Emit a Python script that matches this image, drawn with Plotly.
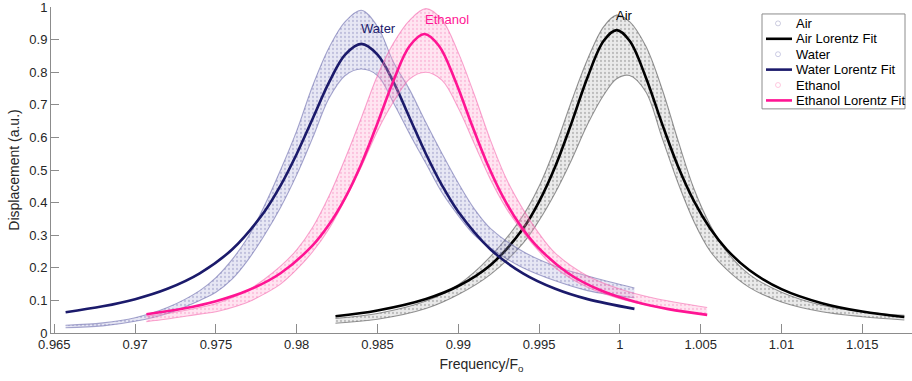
import plotly.graph_objects as go

# ---- Lorentz fit curves (frequency normalised to F_o, displacement in a.u.) ----
air_fit_f = [0.9824, 0.985, 0.988, 0.990, 0.992, 0.994, 0.995, 0.996, 0.997, 0.998,
             0.999, 0.9998, 1.0006, 1.0016, 1.0026, 1.0036, 1.0046, 1.0056, 1.0066,
             1.008, 1.010, 1.0125, 1.015, 1.0176]
air_fit_v = [0.0512, 0.0692, 0.1045, 0.1442, 0.2088, 0.3196, 0.4029, 0.5108, 0.6432, 0.7848,
             0.8965, 0.929, 0.8965, 0.7848, 0.6432, 0.5108, 0.4029, 0.3196, 0.2566,
             0.1931, 0.1347, 0.0916, 0.0659, 0.0490]

water_fit_f = [0.9657, 0.968, 0.970, 0.972, 0.974, 0.976, 0.978, 0.979, 0.980, 0.981,
               0.982, 0.983, 0.984, 0.985, 0.986, 0.987, 0.988, 0.989, 0.990, 0.992,
               0.994, 0.996, 0.998, 1.0009]
water_fit_v = [0.0639, 0.0818, 0.1039, 0.1357, 0.1831, 0.2563, 0.3721, 0.4523, 0.5492, 0.6590,
               0.7688, 0.8542, 0.887, 0.8542, 0.7688, 0.6590, 0.5492, 0.4523, 0.3721, 0.2563,
               0.1831, 0.1357, 0.1039, 0.0740]

ethanol_fit_f = [0.9707, 0.973, 0.975, 0.977, 0.979, 0.981, 0.982, 0.983, 0.984, 0.985,
                 0.986, 0.987, 0.9879, 0.9888, 0.9898, 0.9908, 0.9918, 0.9928, 0.9938,
                 0.9948, 0.9968, 0.9988, 1.0010, 1.0030, 1.0054]
ethanol_fit_v = [0.0575, 0.0751, 0.0975, 0.1310, 0.1834, 0.2694, 0.3325, 0.4145, 0.5186, 0.6436,
                 0.7756, 0.8810, 0.917, 0.8810, 0.7756, 0.6436, 0.5186, 0.4145, 0.3325,
                 0.2694, 0.1834, 0.1310, 0.0949, 0.0733, 0.0557]

# ---- measured sweeps: lower / upper extent of the scatter at each frequency ----
air_f = [0.9824, 0.985, 0.988, 0.990, 0.992, 0.994, 0.995, 0.996, 0.997, 0.998,
         0.999, 0.9998, 1.0006, 1.0016, 1.0026, 1.0036, 1.0046, 1.0056, 1.0066,
         1.008, 1.010, 1.0125, 1.015, 1.0176]
air_lo = [0.030, 0.042, 0.075, 0.118, 0.180, 0.275, 0.345, 0.430, 0.530, 0.640,
          0.730, 0.780, 0.790, 0.740, 0.600, 0.460, 0.340, 0.250, 0.195,
          0.140, 0.095, 0.065, 0.050, 0.040]
air_hi = [0.045, 0.060, 0.098, 0.148, 0.235, 0.360, 0.450, 0.570, 0.710, 0.840,
          0.940, 0.975, 0.955, 0.880, 0.750, 0.590, 0.440, 0.330, 0.250,
          0.180, 0.125, 0.085, 0.065, 0.054]

water_f = [0.9657, 0.968, 0.970, 0.972, 0.974, 0.975, 0.976, 0.977, 0.978, 0.979,
           0.980, 0.981, 0.982, 0.983, 0.984, 0.985, 0.986, 0.987, 0.988, 0.989,
           0.990, 0.991, 0.992, 0.994, 0.996, 0.998, 1.0009]
water_lo = [0.016, 0.022, 0.036, 0.060, 0.100, 0.125, 0.165, 0.225, 0.300, 0.385,
            0.485, 0.600, 0.720, 0.790, 0.810, 0.790, 0.705, 0.610, 0.520, 0.430,
            0.360, 0.300, 0.260, 0.200, 0.160, 0.130, 0.108]
water_hi = [0.024, 0.031, 0.047, 0.078, 0.130, 0.170, 0.225, 0.295, 0.390, 0.500,
            0.620, 0.760, 0.875, 0.955, 0.990, 0.940, 0.830, 0.745, 0.645, 0.550,
            0.460, 0.380, 0.320, 0.250, 0.205, 0.175, 0.138]

ethanol_f = [0.9707, 0.972, 0.974, 0.975, 0.976, 0.977, 0.978, 0.979, 0.980, 0.981,
             0.982, 0.983, 0.984, 0.985, 0.986, 0.987, 0.988, 0.989, 0.990, 0.991,
             0.992, 0.993, 0.994, 0.995, 0.996, 0.998, 1.000, 1.002, 1.0054]
ethanol_lo = [0.035, 0.043, 0.058, 0.065, 0.078, 0.095, 0.120, 0.150, 0.195, 0.250,
              0.320, 0.410, 0.510, 0.620, 0.710, 0.780, 0.800, 0.775, 0.690, 0.580,
              0.470, 0.380, 0.310, 0.250, 0.200, 0.140, 0.105, 0.082, 0.055]
ethanol_hi = [0.052, 0.060, 0.078, 0.090, 0.108, 0.132, 0.165, 0.205, 0.255, 0.325,
              0.420, 0.535, 0.660, 0.790, 0.890, 0.960, 0.995, 0.960, 0.860, 0.730,
              0.590, 0.470, 0.380, 0.305, 0.245, 0.175, 0.135, 0.108, 0.078]

# ---- axis ticks ----
x_ticks = [0.965, 0.97, 0.975, 0.98, 0.985, 0.99, 0.995, 1.0, 1.005, 1.01, 1.015]
x_tick_text = ["0.965", "0.97", "0.975", "0.98", "0.985", "0.99", "0.995", "1",
               "1.005", "1.01", "1.015"]
y_ticks = [0, 0.1, 0.2, 0.3, 0.4, 0.5, 0.6, 0.7, 0.8, 0.9, 1.0]
y_tick_text = ["0", "0.1", "0.2", "0.3", "0.4", "0.5", "0.6", "0.7", "0.8", "0.9", "1"]

# ---- colours ----
AIR = "#000000"
WATER = "#1b1a6b"
ETHANOL = "#ff1493"

W, H = 912, 381
ML, MR, MT, MB = 51, 0, 5, 48
FONT = "Liberation Sans, Arial, Helvetica, sans-serif"

fig = go.Figure()


def add_cloud(f, lo, hi, fill, dots, edge):
    # lower edge of the scatter cloud
    fig.add_trace(go.Scatter(x=f, y=lo, mode="lines",
                             line=dict(width=1.1, shape="spline", color=edge),
                             showlegend=False, hoverinfo="skip"))
    # upper edge, filled down to the lower edge with a speckled pattern
    fig.add_trace(go.Scatter(x=f, y=hi, mode="lines",
                             line=dict(width=1.1, shape="spline", color=edge),
                             fill="tonexty", fillcolor=fill,
                             fillpattern=dict(shape=".", fgcolor=dots, bgcolor=fill,
                                              size=4, solidity=0.25),
                             showlegend=False, hoverinfo="skip"))


def add_fit(f, v, color):
    fig.add_trace(go.Scatter(x=f, y=v, mode="lines",
                             line=dict(width=2.6, shape="spline", color=color),
                             showlegend=False))


add_cloud(air_f, air_lo, air_hi, "rgba(170,170,170,0.25)", "rgba(70,70,70,0.55)",
          "rgba(80,80,80,0.6)")
add_fit(air_fit_f, air_fit_v, AIR)
add_cloud(water_f, water_lo, water_hi, "rgba(160,160,210,0.25)", "rgba(90,90,160,0.55)",
          "rgba(95,95,165,0.55)")
add_fit(water_fit_f, water_fit_v, WATER)
add_cloud(ethanol_f, ethanol_lo, ethanol_hi, "rgba(255,160,205,0.28)", "rgba(245,100,170,0.55)",
          "rgba(245,105,175,0.6)")
add_fit(ethanol_fit_f, ethanol_fit_v, ETHANOL)

# peak labels
labels = [("Water", 0.98507, 0.934, WATER),
          ("Ethanol", 0.98928, 0.9625, ETHANOL),
          ("Air", 1.00028, 0.975, AIR)]
annotations = []
for text, x, y, c in labels:
    annotations.append(dict(x=x, y=y, xref="x", yref="y", text=text, showarrow=False,
                            font=dict(family=FONT, size=13, color=c)))

# legend box drawn in pixel positions of the plot frame
pw, ph = W - ML - MR, H - MT - MB


def px_x(p):
    return (p - ML) / pw


def px_y(p):
    return (H - MB - p) / ph


shapes = [dict(type="rect", xref="paper", yref="paper",
               x0=px_x(762), x1=px_x(905), y0=px_y(107.5), y1=px_y(12),
               line=dict(color="#8c8c8c", width=1), fillcolor="white", layer="above")]
legend_rows = [("Air", "marker", "rgba(150,150,190,0.6)"),
               ("Air Lorentz Fit", "line", AIR),
               ("Water", "marker", "rgba(150,150,200,0.6)"),
               ("Water Lorentz Fit", "line", WATER),
               ("Ethanol", "marker", "rgba(255,160,200,0.7)"),
               ("Ethanol Lorentz Fit", "line", ETHANOL)]
for i, (text, kind, c) in enumerate(legend_rows):
    yc = 21.5 + i * 15.5
    if kind == "line":
        shapes.append(dict(type="line", xref="paper", yref="paper",
                           x0=px_x(766), x1=px_x(792), y0=px_y(yc), y1=px_y(yc),
                           line=dict(color=c, width=2.6), layer="above"))
    else:
        shapes.append(dict(type="circle", xref="paper", yref="paper",
                           x0=px_x(775.5), x1=px_x(780.5), y0=px_y(yc + 2.5), y1=px_y(yc - 2.5),
                           line=dict(color=c, width=0.8), layer="above"))
    annotations.append(dict(x=px_x(794), y=px_y(yc), xref="paper", yref="paper",
                            text=text, showarrow=False, xanchor="left", yanchor="middle",
                            font=dict(family=FONT, size=13, color="#000000")))

axis_common = dict(showline=True, linecolor="#8c8c8c", linewidth=1,
                   ticks="inside", tickcolor="#8c8c8c", tickwidth=1,
                   showgrid=False, zeroline=False, ticklabeloverflow="allow",
                   tickfont=dict(family=FONT, size=13, color="#262626"))

fig.update_layout(
    width=W, height=H,
    margin=dict(l=ML, r=MR, t=MT, b=MB),
    paper_bgcolor="white", plot_bgcolor="white",
    showlegend=False,
    xaxis=dict(range=[0.964796, 1.018076], tickvals=x_ticks, ticktext=x_tick_text,
               ticklen=9, ticklabelstandoff=-1,
               title=dict(text="Frequency/F<sub>o</sub>", standoff=8,
                          font=dict(family=FONT, size=14, color="#262626")),
               **axis_common),
    yaxis=dict(range=[0, 1], tickvals=y_ticks, ticktext=y_tick_text, ticklen=8,
               title=dict(text="Displacement (a.u.)", standoff=6,
                          font=dict(family=FONT, size=14, color="#262626")),
               **axis_common),
    annotations=annotations,
    shapes=shapes,
)

fig.write_html("out.html")
